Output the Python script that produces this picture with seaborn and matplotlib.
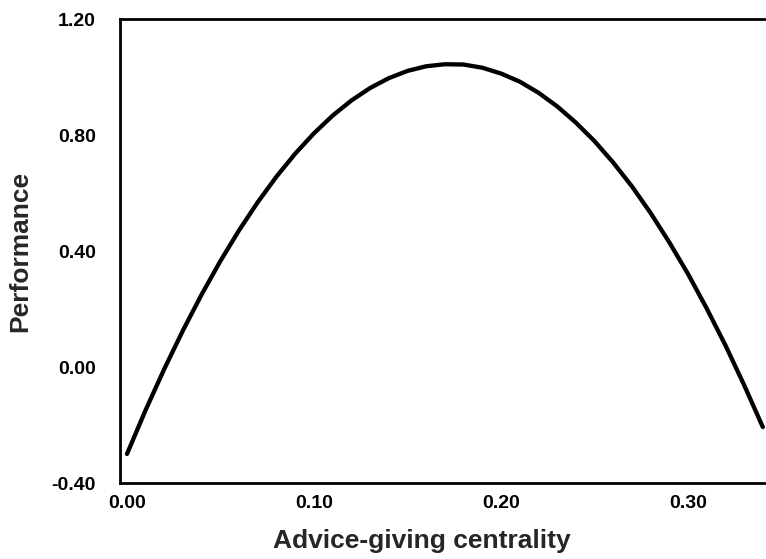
import matplotlib
matplotlib.use('Agg')
import matplotlib.pyplot as plt
import seaborn as sns
import pandas as pd

sns.set_theme(style='white')
plt.rcParams['font.family'] = ['Liberation Sans', 'DejaVu Sans']

# values
centrality = [0.00, 0.01, 0.02, 0.03, 0.04, 0.05, 0.06, 0.07, 0.08, 0.09,
              0.10, 0.11, 0.12, 0.13, 0.14, 0.15, 0.16, 0.17, 0.18, 0.19,
              0.20, 0.21, 0.22, 0.23, 0.24, 0.25, 0.26, 0.27, 0.28, 0.29,
              0.30, 0.31, 0.32, 0.33, 0.34]
performance = [-0.300, -0.148, -0.006, 0.127, 0.251, 0.366, 0.472, 0.569, 0.657, 0.736,
               0.806, 0.867, 0.919, 0.962, 0.996, 1.021, 1.037, 1.044, 1.043, 1.032,
               1.012, 0.984, 0.946, 0.899, 0.843, 0.779, 0.705, 0.623, 0.531, 0.430,
               0.321, 0.202, 0.075, -0.062, -0.207]

x_ticks = [0.00, 0.10, 0.20, 0.30]
x_tick_labels = ['0.00', '0.10', '0.20', '0.30']
y_ticks = [-0.40, 0.00, 0.40, 0.80, 1.20]
y_tick_labels = ['-0.40', '0.00', '0.40', '0.80', '1.20']

df = pd.DataFrame({'centrality': centrality, 'performance': performance})

fig = plt.figure(figsize=(7.66, 5.59), dpi=100)
# axes runs past the right edge, like the cropped original
ax = fig.add_axes([119.5 / 766, 76 / 559, 662 / 766, 464 / 559])

sns.lineplot(data=df, x='centrality', y='performance', color='black',
             linewidth=3.1, ax=ax, solid_joinstyle='round', solid_capstyle='round')

ax.set_xlim(-0.004, 0.35)
ax.set_ylim(-0.40, 1.20)
ax.set_xticks(x_ticks)
ax.set_xticklabels(x_tick_labels)
ax.set_yticks(y_ticks)
ax.set_yticklabels(y_tick_labels)
ax.tick_params(axis='both', length=0, labelsize=14, colors='black')
ax.tick_params(axis='y', pad=17)
ax.tick_params(axis='x', pad=9)
for lab in ax.get_xticklabels() + ax.get_yticklabels():
    lab.set_fontweight('bold')

for side in ['left', 'right', 'top', 'bottom']:
    ax.spines[side].set_visible(True)
    ax.spines[side].set_color('black')
    ax.spines[side].set_linewidth(2)

ax.set_xlabel('Advice-giving centrality', fontsize=19, fontweight='bold')
ax.set_ylabel('Performance', fontsize=19, fontweight='bold')
ax.xaxis.set_label_coords(0.457, -0.100)
ax.yaxis.set_label_coords(-0.132, 0.5)

fig.savefig('out.png', dpi=100)
